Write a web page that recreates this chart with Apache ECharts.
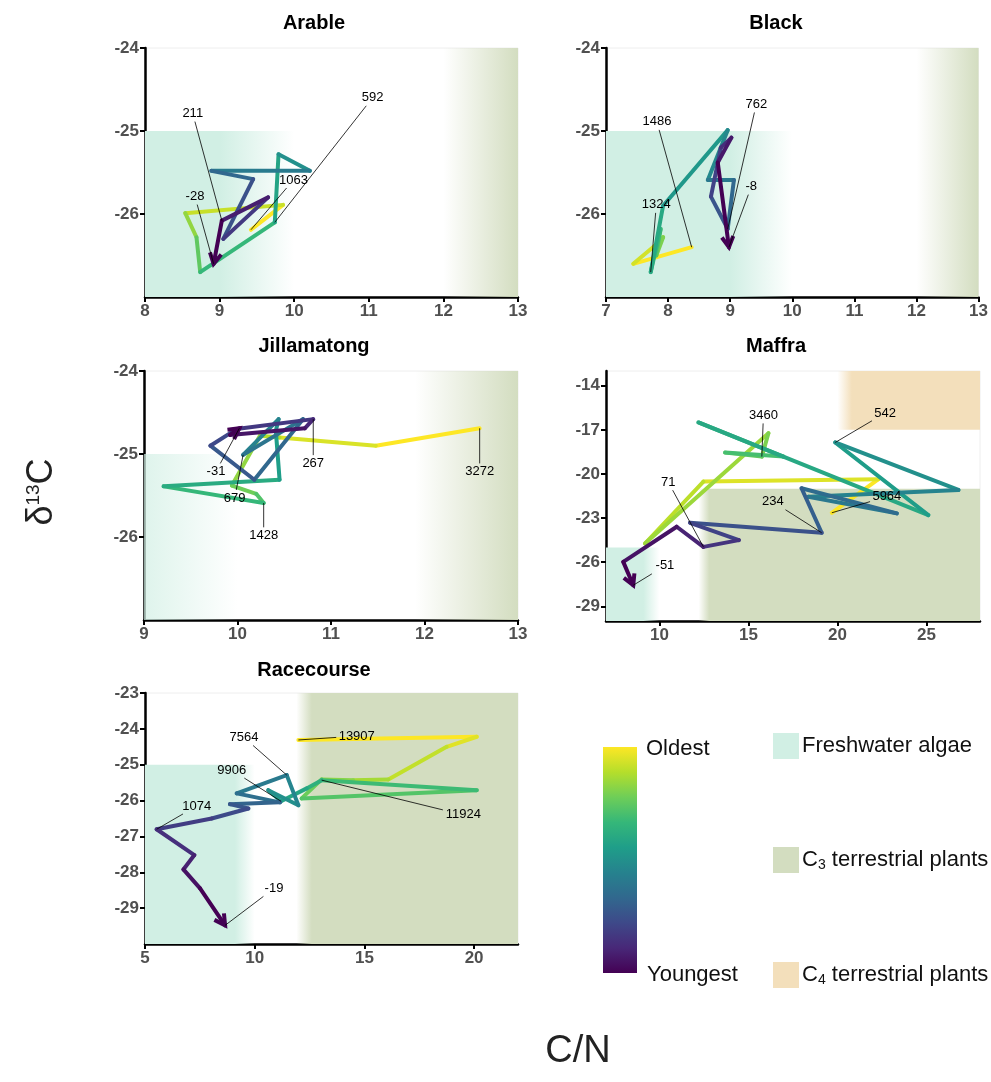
<!DOCTYPE html>
<html>
<head>
<meta charset="utf-8">
<script src="https://cdn.jsdelivr.net/npm/echarts@6/dist/echarts.min.js"></script>
<style>
  html, body { margin: 0; padding: 0; background: #fff; }
  #chart { width: 991px; height: 1082px; }
</style>
</head>
<body>
<div id="chart"></div>
<script>
// sites, one panel each
const sites = ['Arable', 'Black', 'Jillamatong', 'Maffra', 'Racecourse'];

// C/N and d13C down each core, oldest sample first, youngest last
const arableCN   = [9.42, 9.85, 8.54, 8.69, 8.74, 9.74, 9.79, 10.21, 8.89, 9.45, 9.05, 9.65, 9.03, 8.92];
const arableD13C = [-26.19, -25.89, -25.99, -26.28, -26.70, -26.10, -25.28, -25.48, -25.48, -25.58, -26.30, -25.80, -26.08, -26.60];

const blackCN   = [8.38, 7.44, 7.79, 7.92, 7.81, 7.88, 7.72, 7.92, 8.96, 8.64, 9.06, 8.96, 8.69, 8.85, 9.02, 8.80, 8.98];
const blackD13C = [-26.40, -26.60, -26.38, -26.28, -26.50, -26.18, -26.70, -25.90, -24.99, -25.59, -25.59, -26.18, -25.79, -25.20, -25.08, -25.38, -26.40];

const jillCN   = [12.59, 11.48, 10.45, 10.24, 9.94, 10.20, 10.28, 9.21, 10.45, 10.41, 10.44, 10.06, 10.70, 10.18, 9.71, 9.99, 10.81, 10.72, 9.92, 10.02];
const jillD13C = [-24.69, -24.90, -24.80, -24.78, -25.38, -25.48, -25.59, -25.39, -25.31, -24.72, -24.58, -25.01, -24.58, -25.31, -24.90, -24.70, -24.58, -24.69, -24.77, -24.69];

const maffraCN   = [19.68, 22.30, 12.47, 9.19, 16.12, 15.75, 13.69, 16.96, 12.19, 25.10, 19.87, 26.79, 18.36, 23.33, 17.98, 19.11, 11.72, 14.46, 12.47, 10.97, 7.97, 8.53];
const maffraD13C = [-22.64, -20.36, -20.52, -24.73, -17.23, -18.82, -18.55, -18.82, -16.50, -22.80, -17.86, -21.09, -21.55, -22.68, -20.97, -24.00, -23.32, -24.50, -24.96, -23.59, -25.98, -27.57];

const raceCN   = [11.99, 20.12, 18.75, 16.09, 14.49, 13.05, 12.14, 20.12, 13.05, 12.37, 11.20, 10.62, 11.99, 11.46, 9.18, 11.15, 8.87, 9.71, 8.04, 5.53, 7.25, 6.75, 7.51, 8.65];
const raceD13C = [-24.31, -24.22, -24.50, -25.41, -25.43, -25.41, -25.94, -25.71, -25.43, -25.66, -26.02, -25.71, -26.13, -25.29, -25.80, -26.05, -26.10, -26.22, -26.50, -26.80, -27.52, -27.92, -28.45, -29.48];

// age labels: [text, sample index, label C/N, label d13C]
const arableAges = [['1063', 0, 9.99, -25.59], ['592', 5, 11.05, -24.60], ['211', 12, 8.64, -24.79], ['-28', 13, 8.67, -25.79]];
const blackAges  = [['1486', 0, 7.82, -24.89], ['1324', 6, 7.81, -25.89], ['762', 11, 9.42, -24.68], ['-8', 16, 9.34, -25.67]];
const jillAges   = [['3272', 0, 12.59, -25.21], ['1428', 6, 10.28, -25.98], ['679', 11, 9.97, -25.53], ['267', 16, 10.81, -25.11], ['-31', 19, 9.77, -25.21]];
const maffraAges = [['5964', 0, 22.77, -21.55], ['3460', 5, 15.84, -16.02], ['542', 10, 22.67, -15.86], ['234', 15, 16.37, -21.89], ['71', 18, 10.50, -20.56], ['-51', 21, 10.31, -26.25]];
const raceAges   = [['13907', 0, 14.65, -24.20], ['11924', 8, 19.51, -26.40], ['9906', 10, 8.95, -25.15], ['7564', 13, 9.51, -24.24], ['1074', 19, 7.36, -26.15], ['-19', 23, 10.88, -28.45]];

// axis ranges and tick labels
const xRanges = [[8, 13], [7, 13], [9, 13], [7, 28], [5, 22]];
const yRanges = [[-27, -24], [-27, -24], [-27, -24], [-30, -13], [-30, -23]];
const xTicks = [[8, 9, 10, 11, 12, 13], [7, 8, 9, 10, 11, 12, 13], [9, 10, 11, 12, 13], [10, 15, 20, 25], [5, 10, 15, 20]];
const yTicks = [[-26, -25, -24], [-26, -25, -24], [-26, -25, -24], [-29, -26, -23, -20, -17, -14], [-29, -28, -27, -26, -25, -24, -23]];

// source end-member boxes (C/N, d13C)
const freshFade = [9, 9, 8.6, 9.1, 9.1];     // freshwater algae solid up to here...
const freshEnd = 10;                          // ...and gone by here
const freshTop = -25;
const c3Start = [12, 12, 11.9, 12.2, 11.9];   // C3 plants start fading in here...
const c3Full = [13, 13, 13, 12.8, 12.6];      // ...and are solid from here
const c3Top = -21;
const c4Start = 20, c4Full = 20.8, c4Bottom = -17;

const cnAll = [arableCN, blackCN, jillCN, maffraCN, raceCN];
const d13cAll = [arableD13C, blackD13C, jillD13C, maffraD13C, raceD13C];
const agesAll = [arableAges, blackAges, jillAges, maffraAges, raceAges];

// viridis
const viridisStops = ['#440154', '#482878', '#3e4989', '#31688e', '#26828e', '#1f9e89', '#35b779', '#6ece58', '#b5de2b', '#fde725'];
function hexRgb(h) { return [parseInt(h.substr(1, 2), 16), parseInt(h.substr(3, 2), 16), parseInt(h.substr(5, 2), 16)]; }
function viridis(t) {
    t = Math.max(0, Math.min(1, t));
    const n = viridisStops.length - 1;
    const i = Math.min(n - 1, Math.floor(t * n));
    const f = t * n - i;
    const a = hexRgb(viridisStops[i]), b = hexRgb(viridisStops[i + 1]);
    return 'rgb(' + a.map((v, k) => Math.round(v + (b[k] - v) * f)).join(',') + ')';
}

const FRESH = [209, 239, 228], C3 = [211, 221, 192], C4 = [243, 223, 187];

// box faded along C/N: alpha 0 at a, 1 at b
function fadedBox(rgb, x1, x2, y1, y2, a, b) {
    const alpha = x => Math.max(0, Math.min(1, (x - a) / (b - a)));
    const pts = [x1, a, b, x2].filter(p => p >= x1 && p <= x2).sort((p, q) => p - q);
    const stops = pts.map(p => ({
        offset: (p - x1) / (x2 - x1),
        color: 'rgba(' + rgb.join(',') + ',' + alpha(p).toFixed(3) + ')'
    }));
    return [{
        coord: [x1, y1],
        itemStyle: { color: { type: 'linear', x: 0, y: 0, x2: 1, y2: 0, colorStops: stops } }
    }, { coord: [x2, y2] }];
}

function zonesFor(i) {
    const [xmin, xmax] = xRanges[i], [ymin, ymax] = yRanges[i];
    const out = [];
    out.push(fadedBox(FRESH, xmin, Math.min(freshEnd, xmax), ymin, Math.min(freshTop, ymax), freshEnd, freshFade[i]));
    out.push(fadedBox(C3, Math.max(c3Start[i], xmin), xmax, ymin, Math.min(c3Top, ymax), c3Start[i], c3Full[i]));
    if (ymax > c4Bottom) out.push(fadedBox(C4, Math.max(c4Start, xmin), xmax, c4Bottom, ymax, c4Start, c4Full));
    return out;
}

const grids = [
    { left: 145, top: 48, width: 373, height: 249 },
    { left: 606, top: 48, width: 374, height: 249 },
    { left: 144, top: 371, width: 374, height: 249 },
    { left: 606, top: 371, width: 374, height: 250 },
    { left: 145, top: 693, width: 373, height: 251 }
];

const tickFont = { color: '#505050', fontSize: 17, fontWeight: 'bold', fontFamily: 'Liberation Sans' };

function axis(i, range, ticks) {
    return {
        type: 'value', gridIndex: i, min: range[0], max: range[1],
        axisLine: { show: true, onZero: false, lineStyle: { color: '#000', width: 2.5 } },
        axisTick: { show: true, length: 5, customValues: ticks, lineStyle: { color: '#000', width: 2 } },
        axisLabel: Object.assign({ customValues: ticks, margin: 6 }, tickFont),
        splitLine: { show: false }
    };
}

const series = [];
sites.forEach((name, i) => {
    const cn = cnAll[i], dc = d13cAll[i], ages = agesAll[i];
    const n = cn.length;
    const segs = [];
    for (let k = 0; k < n - 1; k++) {
        segs.push([cn[k], dc[k], cn[k + 1], dc[k + 1], 1 - k / (n - 2), k === n - 2 ? 1 : 0]);
    }
    series.push({
        type: 'line', xAxisIndex: i, yAxisIndex: i, data: [], silent: true, z: 1,
        markArea: { silent: true, data: zonesFor(i) }
    });
    series.push({
        type: 'custom', xAxisIndex: i, yAxisIndex: i, z: 3, silent: true,
        data: segs,
        renderItem: function (params, api) {
            const a = api.coord([api.value(0), api.value(1)]);
            const b = api.coord([api.value(2), api.value(3)]);
            const color = viridis(api.value(4));
            const kids = [{
                type: 'line',
                shape: { x1: a[0], y1: a[1], x2: b[0], y2: b[1] },
                style: { stroke: color, lineWidth: 4, lineCap: 'round' }
            }];
            if (api.value(5) === 1) {
                const ang = Math.atan2(b[1] - a[1], b[0] - a[0]);
                const len = 12, s = 0.5;
                kids.push({
                    type: 'polyline',
                    shape: { points: [
                        [b[0] - len * Math.cos(ang - s), b[1] - len * Math.sin(ang - s)],
                        [b[0], b[1]],
                        [b[0] - len * Math.cos(ang + s), b[1] - len * Math.sin(ang + s)]
                    ] },
                    style: { stroke: color, fill: null, lineWidth: 4, lineJoin: 'miter' }
                });
            }
            return { type: 'group', children: kids };
        }
    });
    series.push({
        type: 'custom', xAxisIndex: i, yAxisIndex: i, z: 4, silent: true,
        data: ages.map(a => [cn[a[1]], dc[a[1]], a[2], a[3]]),
        renderItem: function (params, api) {
            const p = api.coord([api.value(0), api.value(1)]);
            const c = api.coord([api.value(2), api.value(3)]);
            const txt = ages[params.dataIndex][0];
            const hw = txt.length * 3.7 + 2, hh = 8;
            const dx = p[0] - c[0], dy = p[1] - c[1];
            const sc = Math.min(hw / Math.max(Math.abs(dx), 1e-6), hh / Math.max(Math.abs(dy), 1e-6));
            const kids = [];
            if (sc < 1) {
                kids.push({
                    type: 'line',
                    shape: { x1: c[0] + dx * sc, y1: c[1] + dy * sc, x2: p[0], y2: p[1] },
                    style: { stroke: '#000', lineWidth: 0.8 }
                });
            }
            kids.push({
                type: 'text', x: c[0], y: c[1],
                style: { text: txt, align: 'center', verticalAlign: 'middle', fill: '#000', font: '13px "Liberation Sans"' }
            });
            return { type: 'group', children: kids };
        }
    });
});

const titlePos = [[314, 23], [776, 23], [314, 346], [776, 346], [314, 670]];
const graphics = sites.map((s, i) => ({
    type: 'text', x: titlePos[i][0], y: titlePos[i][1],
    style: { text: s, align: 'center', verticalAlign: 'middle', fill: '#000', font: 'bold 20px "Liberation Sans"' }
}));

// colour bar
graphics.push({
    type: 'rect', shape: { x: 603, y: 747, width: 34, height: 226 },
    style: { fill: { type: 'linear', x: 0, y: 0, x2: 0, y2: 1,
        colorStops: viridisStops.map((c, k) => ({ offset: k / (viridisStops.length - 1), color: viridisStops[viridisStops.length - 1 - k] })) } }
});
graphics.push({ type: 'text', x: 646, y: 749, style: { text: 'Oldest', verticalAlign: 'middle', fill: '#111', font: '22px "Liberation Sans"' } });
graphics.push({ type: 'text', x: 647, y: 975, style: { text: 'Youngest', verticalAlign: 'middle', fill: '#111', font: '22px "Liberation Sans"' } });

// source legend
const legendNames = ['Freshwater algae', 'C{s|3} terrestrial plants', 'C{s|4} terrestrial plants'];
const legendRgb = [FRESH, C3, C4];
const legendY = [746, 860, 975];
legendNames.forEach((t, k) => {
    graphics.push({ type: 'rect', shape: { x: 773, y: legendY[k] - 13, width: 26, height: 26 }, style: { fill: 'rgb(' + legendRgb[k].join(',') + ')' } });
    graphics.push({
        type: 'text', x: 802, y: legendY[k],
        style: { text: t, verticalAlign: 'middle', fill: '#111', fontSize: 22, fontFamily: 'Liberation Sans',
            rich: { s: { fontSize: 14, fontFamily: 'Liberation Sans', fill: '#111', padding: [10, 0, 0, 0] } } }
    });
});

// axis titles
graphics.push({
    type: 'text', x: 578, y: 1052,
    style: { text: 'C/N', align: 'center', verticalAlign: 'middle', fill: '#222', font: '38px "Liberation Sans"' }
});
graphics.push({
    type: 'text', x: 42, y: 492, rotation: Math.PI / 2,
    style: { text: '{b|δ}{s|13}{b|C}', align: 'center', verticalAlign: 'middle',
        rich: { b: { fontSize: 36, fontFamily: 'Liberation Sans', fill: '#222' },
                s: { fontSize: 19, fontFamily: 'Liberation Sans', fill: '#222', padding: [0, 0, 16, 0] } } }
});

const chart = echarts.init(document.getElementById('chart'), null, { renderer: 'canvas' });
chart.setOption({
    animation: false,
    backgroundColor: '#fff',
    grid: grids.map(g => Object.assign({ show: true, borderColor: '#eeeeee', borderWidth: 1 }, g)),
    xAxis: xRanges.map((r, i) => axis(i, r, xTicks[i])),
    yAxis: yRanges.map((r, i) => axis(i, r, yTicks[i])),
    series: series,
    graphic: graphics
});
</script>
</body>
</html>
